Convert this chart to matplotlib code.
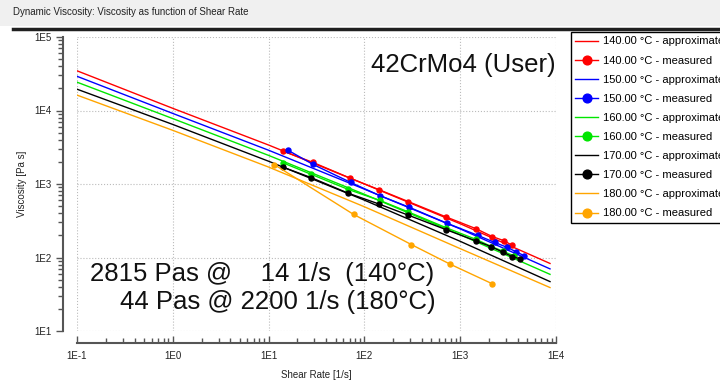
"""
Dynamic viscosity of 42CrMo4 vs. shear rate, five temperatures.
Approximated curves plus measured points, log-log.
"""

import matplotlib.pyplot as plt
from matplotlib.lines import Line2D
from matplotlib.patches import Rectangle
from matplotlib.ticker import LogLocator, FuncFormatter, NullFormatter
import numpy as np

plt.rcParams['font.family'] = ['Liberation Sans', 'DejaVu Sans']

# ---------------------------------------------------------------------------
# Data
# ---------------------------------------------------------------------------

TEMPS = ["140.00", "150.00", "160.00", "170.00", "180.00"]
COLORS = ["#ff0000", "#0000ff", "#00e600", "#000000", "#ffa500"]

# approximate (fitted) curves
APPROX_RATE = [0.1, 1, 10, 100, 1000, 8660]
APPROX_140 = [34700, 10700, 3390, 1000, 288, 83]
APPROX_150 = [29200, 9120, 2880, 851, 245, 70]
APPROX_160 = [24300, 7760, 2450, 724, 204, 59]
APPROX_170 = [19500, 6460, 2040, 603, 166, 47]
APPROX_180 = [16200, 5370, 1700, 490, 132, 39]

# measured points
MEAS_RATE_140 = [14, 29, 71, 143, 287, 714, 1468, 2154, 2870, 3500]
MEAS_VISC_140 = [2815, 1968, 1200, 834, 577, 356, 246, 193, 169, 146]
MEAS_RATE_150 = [16, 29, 72, 144, 294, 733, 1528, 2296, 3111, 3855, 4645]
MEAS_VISC_150 = [2870, 1850, 1050, 697, 482, 291, 200, 160, 137, 119, 106]
MEAS_RATE_160 = [14, 28, 68, 144, 287, 714, 1468, 2118, 2825, 3650]
MEAS_VISC_160 = [1950, 1350, 842, 600, 417, 254, 176, 141, 121, 105]
MEAS_RATE_170 = [14, 28, 68, 141, 282, 714, 1445, 2118, 2825, 3505, 4190]
MEAS_VISC_170 = [1700, 1217, 748, 536, 380, 239, 169, 140, 117, 103, 96]
MEAS_RATE_180 = [11.5, 77, 309, 787, 2154]
MEAS_VISC_180 = [1832, 386, 150, 81, 44]

APPROX = [APPROX_140, APPROX_150, APPROX_160, APPROX_170, APPROX_180]
MEAS = [(MEAS_RATE_140, MEAS_VISC_140), (MEAS_RATE_150, MEAS_VISC_150),
        (MEAS_RATE_160, MEAS_VISC_160), (MEAS_RATE_170, MEAS_VISC_170),
        (MEAS_RATE_180, MEAS_VISC_180)]

TITLE = "Dynamic Viscosity: Viscosity as function of Shear Rate"
NOTE_1 = "2815 Pas @    14 1/s  (140°C)"
NOTE_2 = "44 Pas @ 2200 1/s (180°C)"

# ---------------------------------------------------------------------------
# Figure
# ---------------------------------------------------------------------------

W, H = 720, 383
fig = plt.figure(figsize=(W / 100, H / 100), dpi=100)

# window-like title strip
fig.patches.append(Rectangle((0, 1 - 26 / H), 1, 26 / H, transform=fig.transFigure,
                             facecolor="#f0f0f0", edgecolor="none", zorder=0))
fig.lines.append(Line2D([13 / W, 1], [1 - 29 / H, 1 - 29 / H], transform=fig.transFigure,
                        color="#202020", lw=2.5))
fig.text(13 / W, 1 - 12 / H, TITLE, fontsize=7, va="center", ha="left", color="#222222")

ax = fig.add_axes([77 / W, 1 - 331 / H, (556 - 77) / W, (331 - 37) / H])

handles = []
for temp, col, approx, (mr, mv) in zip(TEMPS, COLORS, APPROX, MEAS):
    la, = ax.plot(APPROX_RATE, approx, color=col, lw=1.0,
                  label=f"{temp} °C - approximate")
    lm, = ax.plot(mr, mv, color=col, lw=1.0, marker="o", ms=3.6,
                  label=f"{temp} °C - measured")
    handles += [la, lm]

ax.set_xscale("log")
ax.set_yscale("log")
ax.set_xlim(0.1, 1e4)
ax.set_ylim(10, 1e5)

fmt = FuncFormatter(lambda v, p: f"1E{int(round(np.log10(v)))}")
for axis in (ax.xaxis, ax.yaxis):
    axis.set_major_locator(LogLocator(base=10, numticks=10))
    axis.set_minor_locator(LogLocator(base=10, subs=np.arange(2, 10), numticks=100))
    axis.set_major_formatter(fmt)
    axis.set_minor_formatter(NullFormatter())

ax.grid(True, which="major", linestyle=":", color="#bbbbbb", lw=0.8)

for s in ("top", "right"):
    ax.spines[s].set_visible(False)
ax.spines["left"].set_position(("outward", 10))
ax.spines["bottom"].set_position(("outward", 8.6))
for s in ("left", "bottom"):
    ax.spines[s].set_color("#555555")
    ax.spines[s].set_linewidth(1.5)

ax.tick_params(axis="y", which="both", direction="out", width=1, colors="#555555",
               labelcolor="#222222", labelsize=7, pad=3)
ax.tick_params(axis="y", which="major", length=5)
ax.tick_params(axis="y", which="minor", length=3.5)
ax.tick_params(axis="x", which="both", direction="in", width=1, colors="#555555",
               labelcolor="#222222", labelsize=7, pad=6)
ax.tick_params(axis="x", which="major", length=5)
ax.tick_params(axis="x", which="minor", length=3.5)

ax.set_xlabel("Shear Rate [1/s]", fontsize=7, color="#222222")
ax.set_ylabel("Viscosity [Pa s]", fontsize=7, color="#222222")
ax.xaxis.set_label_coords(0.5, -0.133)
ax.yaxis.set_label_coords(-0.105, 0.5)

ax.text(1.0, 1 - (65 - 37) / 294, "42CrMo4 (User)", transform=ax.transAxes,
        fontsize=18.5, ha="right", va="center", color="#111111")
ax.text((90 - 77) / 479, 1 - (274 - 37) / 294, NOTE_1, transform=ax.transAxes,
        fontsize=18.5, ha="left", va="center", color="#111111")
ax.text((120 - 77) / 479, 1 - (302 - 37) / 294, NOTE_2, transform=ax.transAxes,
        fontsize=18.5, ha="left", va="center", color="#111111")

# legend sits outside the plot and runs past the right edge, as in the source app
leg = fig.legend(handles=handles, loc="upper left", bbox_to_anchor=(571 / W, 1 - 32 / H),
                 fontsize=8, frameon=True, fancybox=False, edgecolor="black",
                 framealpha=1, borderaxespad=0, borderpad=0.4, handlelength=2.0,
                 handletextpad=0.45, labelspacing=0.82, markerscale=1.75)
leg.get_frame().set_linewidth(1.0)

fig.savefig("out.png", dpi=100)
